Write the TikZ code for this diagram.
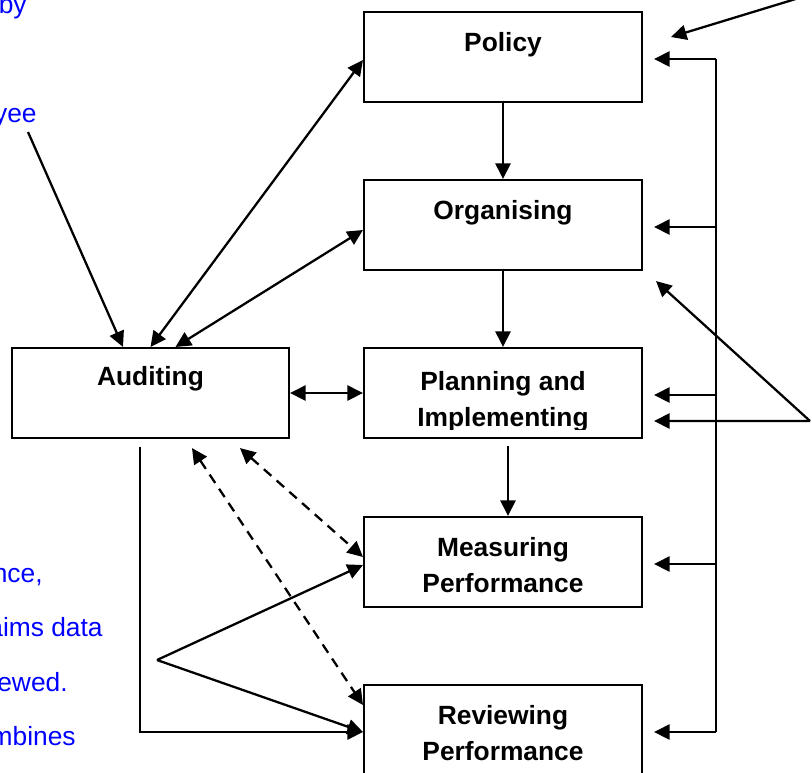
\documentclass[tikz,border=0pt]{standalone}
\usepackage{fontspec}
\setmainfont{Liberation Sans}
\usetikzlibrary{positioning,arrows.meta}
\begin{document}
\begin{tikzpicture}[
        x=0.02cm, y=-0.02cm,
        >={Triangle[length=0.31cm, width=0.3cm]},
        box/.style={rectangle, draw, line width=1.2pt, minimum width=5.56cm, minimum height=1.8cm},
        boxtext/.style={inner sep=0pt, align=center, font=\fontsize{15}{20.8}\selectfont\bfseries},
        note/.style={inner sep=0pt, anchor=base east, text=blue, font=\fontsize{15}{18}\selectfont},
        arrow/.style={->, line width=1.3pt},
        dblarrow/.style={<->, line width=1.3pt}
    ]
        \useasboundingbox (0,0) rectangle (812,772);

        % Right column: the management cycle (top to bottom)
        \node[box] (policy) at (503,57) {};
        \node[box] (organising) at (503,225) {};
        \node[box] (planning) at (503,393) {};
        \node[box] (measuring) at (503,562) {};
        \node[box] (reviewing) at (503,730) {};

        % Left column
        \node[box, minimum width=5.54cm] (auditing) at (150.5,393) {};

        % Box titles
        \node[boxtext, below=0.42cm of policy.north] {Policy};
        \node[boxtext, below=0.42cm of organising.north] {Organising};
        \begin{scope}
            \clip ([yshift=0.2cm]planning.south west) rectangle (planning.north east);
            \node[boxtext, below=0.48cm of planning.north] {Planning and\\Implementing};
        \end{scope}
        \node[boxtext, below=0.42cm of measuring.north] {Measuring\\Performance};
        \node[boxtext, below=0.42cm of reviewing.north] {Reviewing\\Performance};
        \node[boxtext, below=0.38cm of auditing.north] {Auditing};

        % Side notes
        \node[note] (by) at (27,13) {by};
        \node[note] (yee) at (37,122) {yee};
        \node[note] (nce) at (43,582) {nce,};
        \node[note] (aims) at (103,636) {aims data};
        \node[note] (ewed) at (68,691) {ewed.};
        \node[note] (mbines) at (76,745) {mbines};

        % Free ends of the callout arrows
        \coordinate (employee) at (28,132);
        \coordinate (topnote) at (835,-13);
        \coordinate (rightnote) at (810,421);
        \coordinate (leftnote) at (157,660);
        \coordinate (bustop) at (716,59);
        \coordinate (busbot) at (716,732);

        % Main flow
        \draw[arrow] (policy) -- (organising);
        \draw[arrow] (organising) -- (planning);
        \draw[arrow] ([xshift=0.1cm,yshift=-0.14cm]planning.south) -- ([xshift=0.1cm]measuring.north);

        % Auditing links
        \draw[dblarrow] (auditing) -- (planning);
        \draw[dblarrow] (auditing.north) -- ([yshift=-0.06cm]policy.west);
        \draw[dblarrow] ([xshift=0.5cm]auditing.north) -- ([yshift=-0.1cm]organising.west);
        \draw[dblarrow, dashed, dash pattern=on 0.2cm off 0.14cm] ([xshift=0.83cm,yshift=-0.18cm]auditing.south) -- ([yshift=0.5cm]reviewing.west);
        \draw[dblarrow, dashed, dash pattern=on 0.2cm off 0.14cm] ([xshift=1.79cm,yshift=-0.18cm]auditing.south) -- ([yshift=0.1cm]measuring.west);
        \draw[arrow] ([xshift=-0.21cm,yshift=-0.16cm]auditing.south) |- ([yshift=-0.04cm]reviewing.west);

        % Feedback bus on the right
        \draw[line width=1.3pt] (bustop) -- (busbot);
        \foreach \stage in {policy, organising, planning, measuring, reviewing}
            \draw[arrow] ([yshift=-0.04cm]\stage.east -| bustop) -- ([xshift=0.22cm,yshift=-0.04cm]\stage.east);

        % Callouts
        \draw[arrow] (employee) -- ([xshift=-0.55cm]auditing.north);
        \draw[arrow] (topnote) -- ([xshift=0.56cm,yshift=0.4cm]policy.east);
        \draw[arrow] (rightnote) -- ([xshift=0.22cm,yshift=-0.56cm]planning.east);
        \draw[arrow] (rightnote) -- ([xshift=0.26cm,yshift=-0.2cm]organising.south east);
        \draw[arrow] (leftnote) -- ([yshift=-0.06cm]measuring.west);
        \draw[arrow] (leftnote) -- ([yshift=-0.04cm]reviewing.west);
    \end{tikzpicture}
\end{document}
